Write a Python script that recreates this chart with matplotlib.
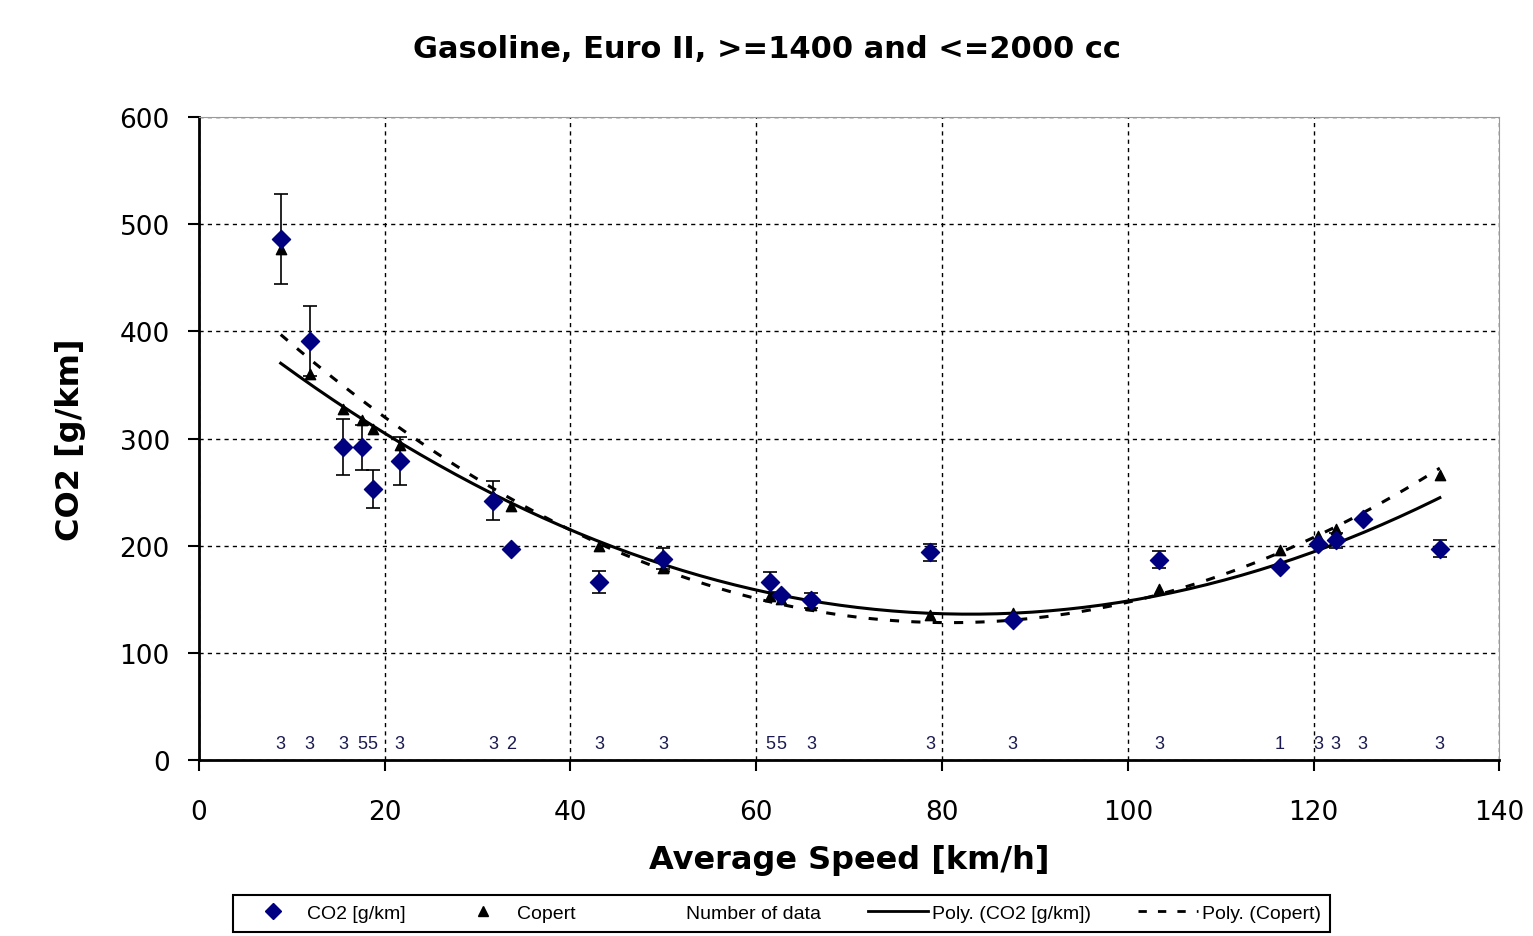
import numpy as np
import matplotlib.pyplot as plt
from matplotlib.lines import Line2D

plt.rcParams['font.family'] = ['DejaVu Sans']

# average speed of each test cycle [km/h]
speed = [8.8, 11.9, 15.5, 17.6, 18.7, 21.6, 31.7, 33.6, 43.1, 50.0, 61.5,
         62.7, 65.9, 78.7, 87.6, 103.4, 116.4, 120.5, 122.4, 125.3, 133.6]
# measured CO2 [g/km]
co2 = [486, 391, 292, 292, 253, 279, 242, 197, 166, 188, 166,
       154, 149, 194, 131, 187, 180, 202, 205, 225, 197]
# error bar half-widths
co2_err = [42, 33, 26, 21, 18, 22, 18, 0, 10, 10, 9,
           0, 7, 8, 0, 8, 0, 0, 7, 0, 8]
# COPERT estimates [g/km]
copert = [477, 360, 328, 317, 309, 294, 246, 237, 200, 179, 153,
          150, 145, 135, 137, 160, 196, 209, 216, 227, 266]
# number of measurements per point
n_data = [3, 3, 3, 5, 5, 3, 3, 2, 3, 3, 5, 5, 3, 3, 3, 3, 1, 3, 3, 3, 3]

x = np.array(speed)
xs = np.linspace(min(speed), max(speed), 200)
fit_co2 = np.polyval(np.polyfit(x, co2, 2), xs)
fit_cop = np.polyval(np.polyfit(x, copert, 2), xs)

fig = plt.figure(figsize=(15.33, 9.37), dpi=100)
ax = fig.add_axes([0.1298, 0.1878, 0.8482, 0.6862])

ax.plot(xs, fit_co2, color='black', lw=2.2, zorder=2)
ax.plot(xs, fit_cop, color='black', lw=2.2, ls=(0, (3, 4)), zorder=2)
ax.errorbar(speed, co2, yerr=co2_err, fmt='none', ecolor='black', elinewidth=1.2,
            capsize=5, capthick=1.2, zorder=3)
ax.scatter(speed, copert, marker='^', s=55, color='black', zorder=4)
ax.scatter(speed, co2, marker='D', s=85, color='#000080', zorder=5)

for sx, nd in zip(speed, n_data):
    ax.text(sx, 15, str(nd), ha='center', va='center', fontsize=13,
            color='#1a1a50', family='Liberation Sans')

ax.set_xlim(0, 140)
ax.set_ylim(0, 600)
ax.set_xticks(np.arange(0, 141, 20))
ax.set_yticks(np.arange(0, 601, 100))
ax.grid(True, color='black', ls=(0, (3, 3)), lw=1)
ax.tick_params(labelsize=19, length=8, width=1.5)
ax.tick_params(axis='x', pad=20)
ax.tick_params(axis='y', pad=13)
for s in ['left', 'bottom']:
    ax.spines[s].set_linewidth(2)
for s in ['top', 'right']:
    ax.spines[s].set_color('#999999')

ax.set_xlabel('Average Speed [km/h]', fontsize=23, fontweight='bold', labelpad=14)
ax.set_ylabel('CO2 [g/km]', fontsize=23, fontweight='bold', labelpad=24)
fig.suptitle('Gasoline, Euro II, >=1400 and <=2000 cc', fontsize=22,
             fontweight='bold', y=0.963)

handles = [
    Line2D([], [], marker='D', color='#000080', ls='none', markersize=8),
    Line2D([], [], marker='^', color='black', ls='none', markersize=7),
    Line2D([], [], ls='none'),
    Line2D([], [], color='black', lw=2),
    Line2D([], [], color='black', lw=2, ls=(0, (3, 4))),
]
labels = ['CO2 [g/km]', 'Copert', 'Number of data', 'Poly. (CO2 [g/km])', 'Poly. (Copert)']
leg = fig.legend(handles, labels, loc='center', bbox_to_anchor=(0.51, 0.0245), ncol=5,
                 fancybox=False, edgecolor='black', framealpha=1, columnspacing=2.4,
                 handlelength=3.1, handletextpad=0.2, borderpad=0.5,
                 prop={'family': 'Liberation Sans', 'size': 14})
leg.get_frame().set_linewidth(1.5)

fig.savefig('out.png', dpi=100)
